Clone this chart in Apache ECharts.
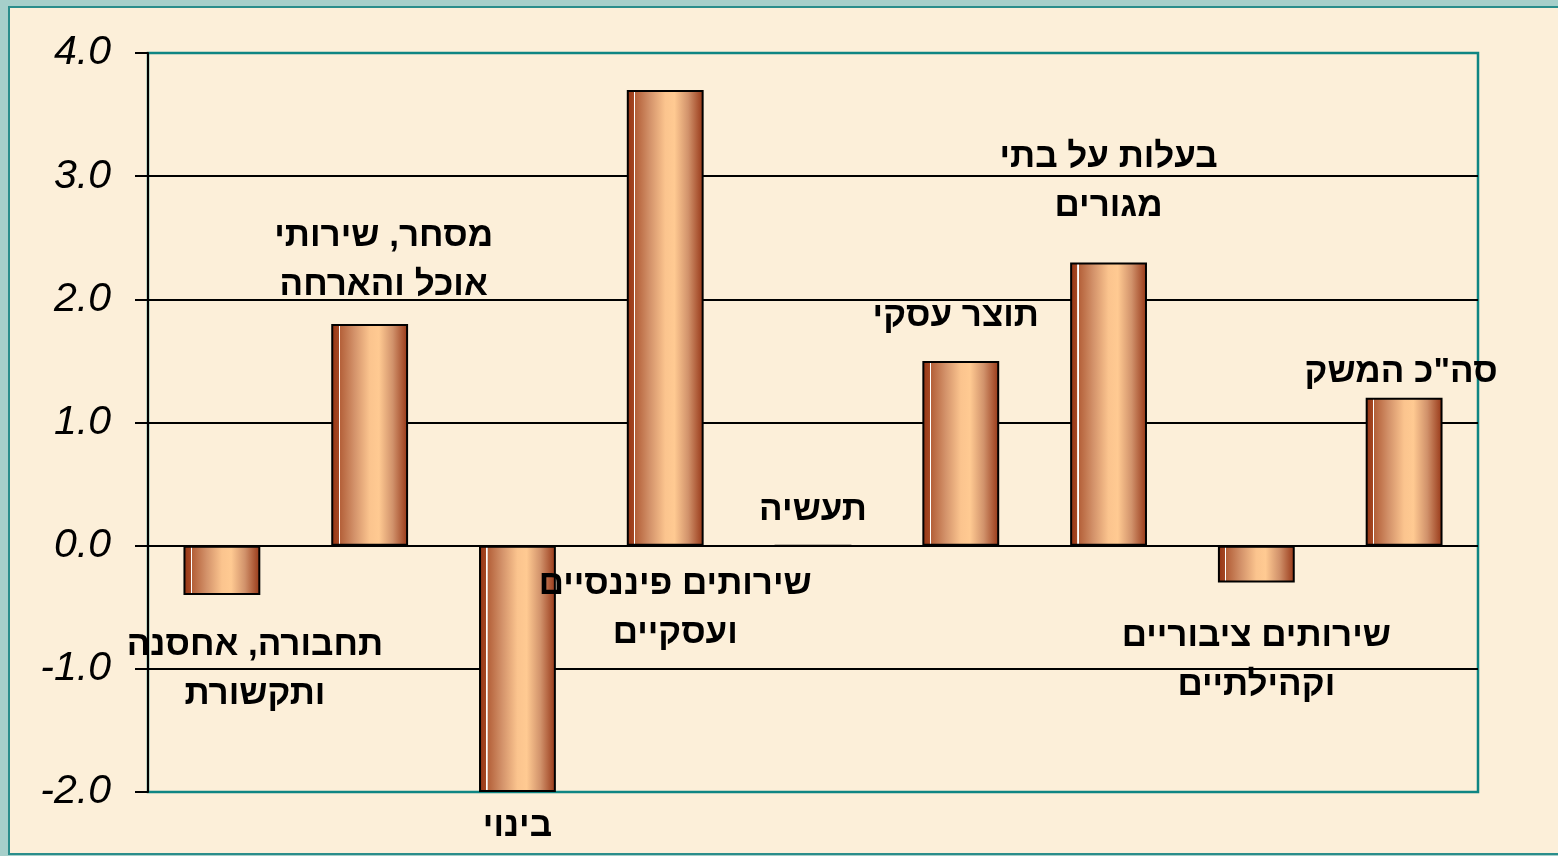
<!DOCTYPE html>
<html>
<head>
<meta charset="utf-8">
<script src="https://cdn.jsdelivr.net/npm/echarts@6/dist/echarts.min.js"></script>
<style>
html, body {
  margin: 0;
  padding: 0;
  width: 1558px;
  height: 856px;
  overflow: hidden;
  background: #a6cfca;
}
.panel {
  position: absolute;
  left: 8px;
  top: 6px;
  width: 1560px;
  height: 845px;
  border: 2px solid #2a8d8b;
  background: #fcefd9;
}
#chart {
  position: absolute;
  left: 0;
  top: 0;
  width: 1558px;
  height: 856px;
}
</style>
</head>
<body>
<div class="panel"></div>
<div id="chart"></div>
<script>
// sectors (Hebrew labels, two lines where the original wraps)
var sectors = [
  "תחבורה, אחסנה\nותקשורת",
  "מסחר, שירותי\nאוכל והארחה",
  "בינוי",
  "שירותים פיננסיים\nועסקיים",
  "תעשיה",
  "תוצר עסקי",
  "בעלות על בתי\nמגורים",
  "שירותים ציבוריים\nוקהילתיים",
  "סה\"כ המשק"
];
var growth = [-0.4, 1.8, -2.0, 3.7, 0.0, 1.5, 2.3, -0.3, 1.2];
var yTicks = [-2, -1, 0, 1, 2, 3, 4];

// where each sector name sits relative to its bar
var labelPlace = [
  { position: "bottom", distance: 26, offset: [33, 0] },
  { position: "top", distance: 14, offset: [14, 0] },
  { position: "bottom", distance: 10, offset: [0, 0] },
  { position: "bottom", distance: 14, offset: [10, 0] },
  { position: "top", distance: 10, offset: [0, 0] },
  { position: "top", distance: 20, offset: [-5, 0] },
  { position: "top", distance: 32, offset: [0, 0] },
  { position: "bottom", distance: 29, offset: [0, 0] },
  { position: "top", distance: 1, offset: [-3, 0] }
];

var barFill = new echarts.graphic.LinearGradient(0, 0, 1, 0, [
  { offset: 0, color: "#943414" },
  { offset: 0.095, color: "#a54722" },
  { offset: 0.096, color: "#ffffff" },
  { offset: 0.11, color: "#ffffff" },
  { offset: 0.111, color: "#b35f38" },
  { offset: 0.3, color: "#d3926a" },
  { offset: 0.5, color: "#fbc48e" },
  { offset: 0.62, color: "#ffca92" },
  { offset: 0.8, color: "#d1926b" },
  { offset: 1, color: "#963515" }
]);

var mychart = echarts.init(document.getElementById("chart"));
var option = {
  animation: false,
  backgroundColor: "transparent",
  grid: {
    left: 148,
    right: 80,
    top: 53,
    bottom: 64,
    show: true,
    borderColor: "#0f8583",
    borderWidth: 2.5,
    backgroundColor: "transparent"
  },
  xAxis: {
    type: "category",
    data: sectors,
    axisLine: { show: false },
    axisTick: { show: false },
    axisLabel: { show: false },
    splitLine: { show: false }
  },
  yAxis: {
    type: "value",
    min: yTicks[0],
    max: yTicks[yTicks.length - 1],
    interval: 1,
    axisLine: { show: true, lineStyle: { color: "#000", width: 2 } },
    axisTick: { show: true, length: 13, lineStyle: { color: "#000", width: 2 } },
    axisLabel: {
      margin: 37,
      fontFamily: "Liberation Sans",
      fontStyle: "italic",
      fontSize: 41,
      color: "#000",
      formatter: function (v) { return v.toFixed(1); }
    },
    splitLine: {
      show: true,
      lineStyle: {
        color: ["#0f8583", "#000", "#000", "#000", "#000", "#000", "#0f8583"],
        width: 2
      }
    }
  },
  series: [
    {
      type: "bar",
      barWidth: "52%",
      data: growth.map(function (v, i) {
        return {
          value: v,
          label: {
            show: true,
            position: labelPlace[i].position,
            distance: labelPlace[i].distance,
            offset: labelPlace[i].offset,
            formatter: sectors[i],
            fontFamily: "Liberation Sans",
            fontWeight: "bold",
            fontSize: 35,
            lineHeight: 49,
            color: "#000",
            align: "center"
          }
        };
      }),
      itemStyle: {
        color: barFill,
        borderColor: "#000",
        borderWidth: 2
      }
    }
  ]
};
mychart.setOption(option, true);
</script>
</body>
</html>
